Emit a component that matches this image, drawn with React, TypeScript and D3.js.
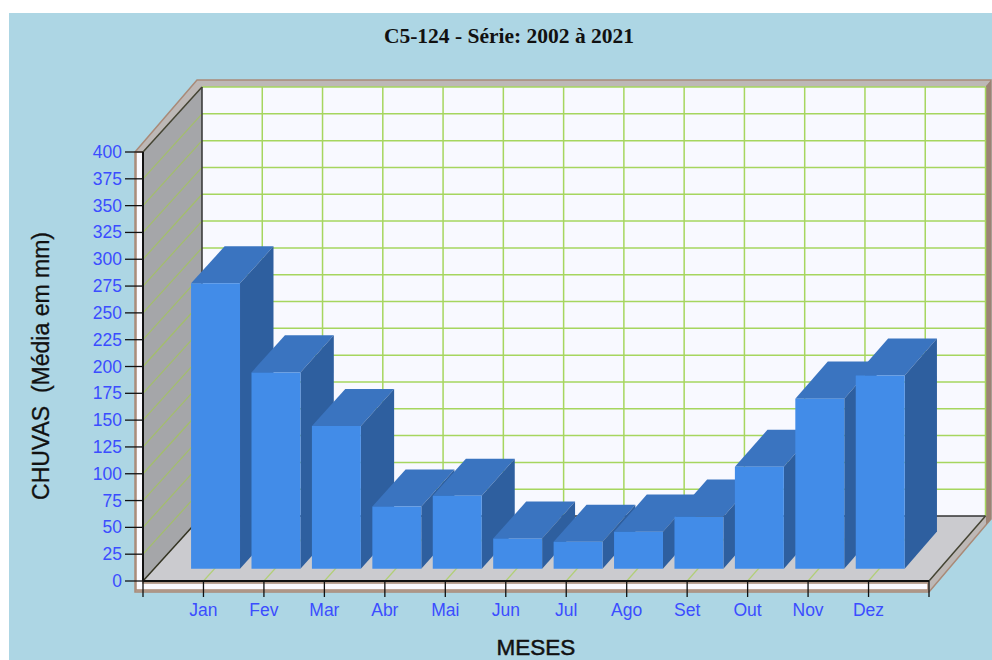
import { useRef, useEffect } from 'react';
import * as d3 from 'd3';

const MONTHS = ['Jan', 'Fev', 'Mar', 'Abr', 'Mai', 'Jun', 'Jul', 'Ago', 'Set', 'Out', 'Nov', 'Dez'];
const RAIN = [266, 183, 133, 58, 68, 28, 25, 34.5, 48.5, 95, 158.5, 180];
const Y_TICKS = d3.range(0, 425, 25);

const GRID = '#a6d65f';
const LABEL = '#3b4dff';
const BROWN = '#a98a78';

function App() {
  const svgRef = useRef<SVGSVGElement>(null);

  useEffect(() => {
    const svg = d3.select(svgRef.current);
    svg.selectAll('*').remove();

    const x = d3.scaleLinear().domain([0, 13]).range([143, 929]);
    const y = d3.scaleLinear().domain([0, 400]).range([581, 152]);
    const depthX = 59, depthY = 65;
    const backShrink = 2.5; // back wall is a touch narrower than the front
    const barHalf = 0.405, barShift = 0.015;

    // project (category position, value, depth 0..1) onto the page
    const p = (cx: number, v: number, z: number): [number, number] =>
      [x(cx) + z * (depthX - (cx / 13) * backShrink), y(v) - z * depthY];
    const poly = (pts: [number, number][]) => pts.map(d => d.join(',')).join(' ');

    const add = (pts: [number, number][], fill: string, stroke = 'none', sw = 0) =>
      svg.append('polygon').attr('points', poly(pts)).attr('fill', fill)
        .attr('stroke', stroke).attr('stroke-width', sw);

    const line = (a: [number, number], b: [number, number], color: string, w = 1.2) =>
      svg.append('line').attr('x1', a[0]).attr('y1', a[1]).attr('x2', b[0]).attr('y2', b[1])
        .attr('stroke', color).attr('stroke-width', w);

    svg.append('rect').attr('x', 9).attr('y', 13).attr('width', 983).attr('height', 647).attr('fill', '#add6e4');

    // outer frame
    add([[135, 152], [197, 80], [991, 80], [991, 519], [929, 592], [135, 592]], '#bdb8b6', BROWN, 1.5);
    add([[986, 86], [991, 80], [991, 519], [986, 525]], '#9c8375');
    add([[136, 152], [143, 152], [143, 583], [928, 583], [928, 590], [136, 590]], '#fbfaff', BROWN, 1.5);

    // walls and floor
    add([p(0, 400, 1), p(13, 400, 1), p(13, 0, 1), p(0, 0, 1)], '#f8f9ff');
    add([p(0, 0, 0), p(0, 400, 0), p(0, 400, 1), p(0, 0, 1)], '#a5a6a9');
    add([p(0, 0, 0), p(13, 0, 0), p(13, 0, 1), p(0, 0, 1)], '#cbcbcf');

    // grid
    Y_TICKS.forEach(t => {
      if (t > 0 && t < 400) line(p(0, t, 0), p(0, t, 1), '#a3bf6a', 1.2);
      if (t > 0) line(p(0, t, 1), p(13, t, 1), GRID, 1.5);
    });
    d3.range(1, 14).forEach(i => line(p(i, 0, 1), p(i, 400, 1), GRID, 1.5));
    d3.range(1, 13).forEach(i => line(p(i, 0, 0), p(i, 0, 1), '#b2cf78', 1.2));

    // edges
    line(p(0, 0, 1), p(0, 400, 1), '#333', 1.5);
    line(p(0, 0, 1), p(13, 0, 1), '#333', 1.5);
    line(p(0, 0, 0), p(0, 0, 1), '#333322', 1.5);
    line(p(13, 0, 0), p(13, 0, 1), '#444433', 1.5);
    line(p(0, 400, 0), p(0, 400, 1), '#444433', 1.5);
    line(p(0, 0, 0), p(0, 400, 0), '#111', 2);
    line(p(0, 0, 0), p(13, 0, 0), '#111', 2);

    // bars, left to right so the nearer front hides the previous side
    const zFront = 0.19, zBack = 0.76;
    RAIN.forEach((v, i) => {
      const l = i + 1 + barShift - barHalf, r = i + 1 + barShift + barHalf;
      add([p(l, v, zFront), p(r, v, zFront), p(r, v, zBack), p(l, v, zBack)], '#3a74c0');
      add([p(r, 0, zFront), p(r, v, zFront), p(r, v, zBack), p(r, 0, zBack)], '#2e5f9f');
      add([p(l, 0, zFront), p(r, 0, zFront), p(r, v, zFront), p(l, v, zFront)], '#428ce8');
    });

    // y axis
    Y_TICKS.forEach(t => {
      line([125, y(t)], [143, y(t)], '#111', 1.3);
      svg.append('text').attr('x', 122).attr('y', y(t) + 6).attr('text-anchor', 'end')
        .attr('font-family', 'Liberation Sans').attr('font-size', 17.5).attr('fill', LABEL).text(t);
    });

    // x axis
    d3.range(0, 14).forEach(i => line([x(i), 581], [x(i), 597], '#111', 1.3));
    MONTHS.forEach((m, i) => {
      svg.append('text').attr('x', x(i + 1)).attr('y', 616).attr('text-anchor', 'middle')
        .attr('font-family', 'Liberation Sans').attr('font-size', 17.5).attr('fill', LABEL).text(m);
    });

    svg.append('text').attr('x', 509).attr('y', 43).attr('text-anchor', 'middle')
      .attr('font-family', 'Liberation Serif').attr('font-weight', 'bold').attr('font-size', 21.5)
      .attr('fill', '#111').text('C5-124 - Série: 2002 à 2021');

    svg.append('text').attr('transform', 'translate(49,366) rotate(-90)').attr('text-anchor', 'middle')
      .attr('font-family', 'Liberation Sans').attr('font-size', 23).attr('fill', '#111')
      .attr('stroke', '#111').attr('stroke-width', 0.3)
      .style('white-space', 'pre').text('CHUVAS  (Média em mm)');

    svg.append('text').attr('x', 536).attr('y', 655).attr('text-anchor', 'middle')
      .attr('font-family', 'Liberation Sans').attr('font-size', 22.5).attr('fill', '#111')
      .attr('stroke', '#111').attr('stroke-width', 0.5).text('MESES');
  }, []);

  return (
    <svg ref={svgRef} width={992} height={660}
      style={{ position: 'absolute', left: 0, top: 0, display: 'block' }} />
  );
}

export default App;
